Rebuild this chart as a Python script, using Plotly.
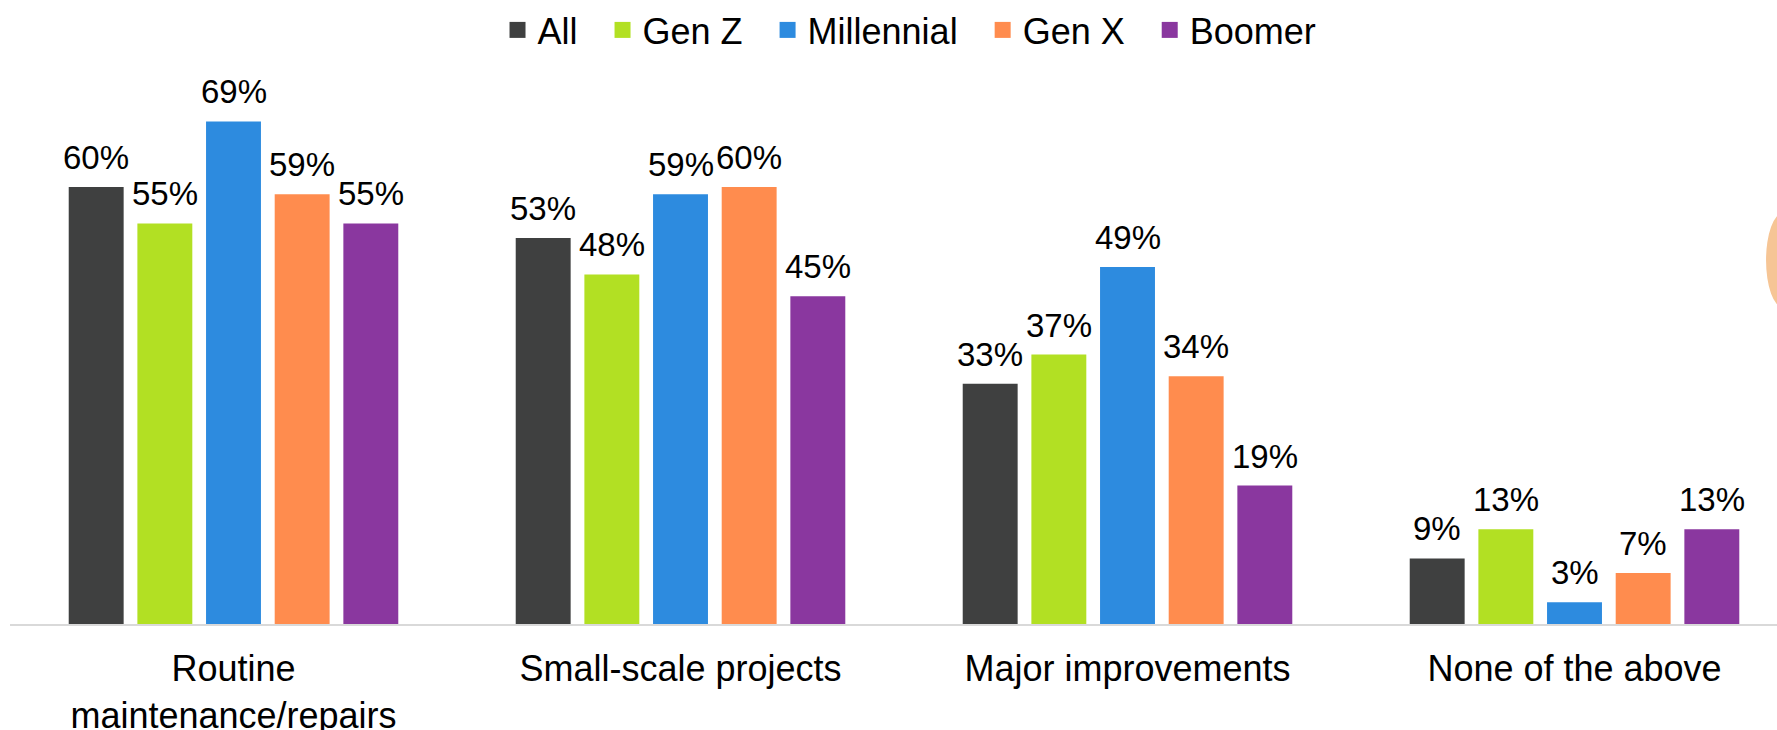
import plotly.graph_objects as go

# Survey results: share of each generation doing each kind of home project (%)
categories = ["Routine<br>maintenance/repairs", "Small-scale projects",
              "Major improvements", "None of the above"]
series_names = ["All", "Gen Z", "Millennial", "Gen X", "Boomer"]
values_all = [60, 53, 33, 9]
values_genz = [55, 48, 37, 13]
values_millennial = [69, 59, 49, 3]
values_genx = [59, 60, 34, 7]
values_boomer = [55, 45, 19, 13]
series_values = [values_all, values_genz, values_millennial, values_genx, values_boomer]
colors = ["#3F4040", "#B2E023", "#2D8BDF", "#FF8C4E", "#8A379F"]

W, H = 1777, 730
margin = dict(l=10, r=0, t=81, b=106)
x_range = [-0.5, 3.453]
y_range = [0, 74]
bargap = 0.232

FONT = "Liberation Sans, Arial, sans-serif"
NBSP = "\u00a0"

fig = go.Figure()
for name, vals, col in zip(series_names, series_values, colors):
    fig.add_trace(go.Bar(
        x=categories, y=vals, name=name, marker_color=col,
        marker_line_width=0, showlegend=False,
    ))
    # square legend swatch (trailing no-break spaces widen the gap between entries)
    fig.add_trace(go.Scatter(
        x=[None], y=[None], mode="markers", name=name + NBSP * 2,
        marker=dict(symbol="square", size=18, color=col),
    ))

# value labels above each bar
plot_w = W - margin["l"] - margin["r"]
cat_px = plot_w / (x_range[1] - x_range[0])
slot_px = cat_px * (1 - bargap) / len(series_names)
annotations = []
for i, vals in enumerate(series_values):
    for cat, v in zip(categories, vals):
        annotations.append(dict(
            x=cat, y=v, xref="x", yref="y", text=f"{v}%",
            showarrow=False, yanchor="bottom",
            xshift=(i - (len(series_names) - 1) / 2) * slot_px, yshift=9,
            font=dict(family=FONT, size=33, color="#000000"),
        ))

fig.update_layout(
    width=W, height=H, margin=margin,
    paper_bgcolor="white", plot_bgcolor="white",
    barmode="group", bargap=bargap, bargroupgap=0.2,
    font=dict(family=FONT, size=33, color="#000000"),
    legend=dict(
        orientation="h", x=0.2759, xanchor="left", y=1.103, yanchor="middle",
        font=dict(family=FONT, size=36, color="#000000"),
        itemsizing="trace", bgcolor="rgba(0,0,0,0)",
    ),
    xaxis=dict(
        range=x_range, showline=True, linecolor="#D9D9D9", linewidth=2,
        ticks="", showgrid=False, zeroline=False, ticklabelstandoff=12,
        automargin=False,
        tickfont=dict(family=FONT, size=36, color="#000000"),
    ),
    yaxis=dict(range=y_range, visible=False, showgrid=False, zeroline=False),
    annotations=annotations,
    shapes=[dict(
        type="circle", xref="paper", yref="paper",
        x0=0.9938, x1=1.013, y0=0.5875, y1=0.762,
        fillcolor="#F6C595", line_width=0, layer="above",
    )],
)

fig.write_html("out.html")
